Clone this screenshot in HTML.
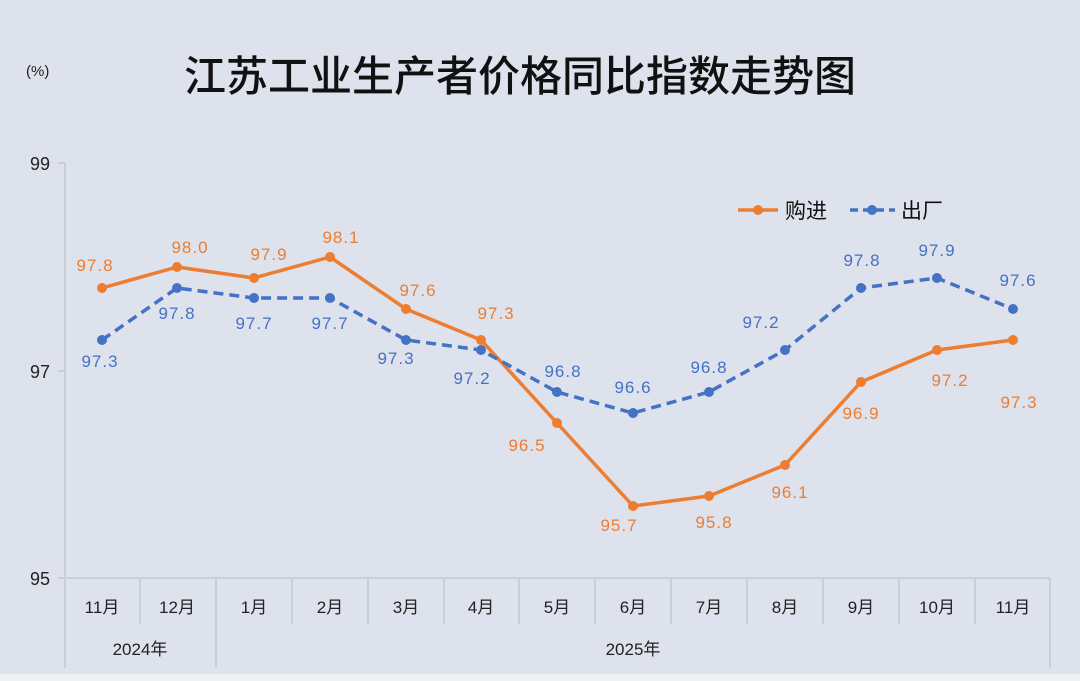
<!DOCTYPE html><html><head><meta charset="utf-8"><style>body{margin:0;background:#dde2ec}svg{display:block}</style></head><body>
<svg width="1080" height="681" viewBox="0 0 1080 681" font-family="Liberation Sans, Noto Sans CJK SC, sans-serif">
<rect width="1080" height="681" fill="#dde2ec"/>
<rect y="674" width="1080" height="7" fill="#eef0f4"/>
<text x="26" y="76" font-size="15" fill="#222">(%)</text>
<text x="520" y="91" font-size="42" text-anchor="middle" fill="#111" font-family="Noto Sans CJK SC, sans-serif" font-weight="500">江苏工业生产者价格同比指数走势图</text>
<g stroke="#c9ced8" stroke-width="2" fill="none">
<line x1="65" y1="163" x2="65" y2="668"/><line x1="58" y1="163" x2="65" y2="163"/><line x1="58" y1="371" x2="65" y2="371"/><line x1="58" y1="578" x2="1050" y2="578"/>
<line x1="1050" y1="578" x2="1050" y2="668"/><line x1="216" y1="578" x2="216" y2="668"/>
<line x1="140" y1="578" x2="140" y2="624"/><line x1="292" y1="578" x2="292" y2="624"/><line x1="368" y1="578" x2="368" y2="624"/><line x1="444" y1="578" x2="444" y2="624"/><line x1="519" y1="578" x2="519" y2="624"/><line x1="595" y1="578" x2="595" y2="624"/><line x1="671" y1="578" x2="671" y2="624"/><line x1="747" y1="578" x2="747" y2="624"/><line x1="823" y1="578" x2="823" y2="624"/><line x1="899" y1="578" x2="899" y2="624"/><line x1="975" y1="578" x2="975" y2="624"/>
</g>
<g font-size="18" fill="#222" text-anchor="end"><text x="50" y="170">99</text><text x="50" y="378">97</text><text x="50" y="585">95</text></g>
<g font-size="17" fill="#222" text-anchor="middle">
<text x="102" y="613">11月</text><text x="177" y="613">12月</text><text x="254" y="613">1月</text><text x="330" y="613">2月</text><text x="406" y="613">3月</text><text x="481" y="613">4月</text><text x="557" y="613">5月</text><text x="633" y="613">6月</text><text x="709" y="613">7月</text><text x="785" y="613">8月</text><text x="861" y="613">9月</text><text x="937" y="613">10月</text><text x="1013" y="613">11月</text>
<text x="140" y="655">2024年</text><text x="633" y="655">2025年</text></g>
<polyline fill="none" stroke="#ed7d31" stroke-width="3.5" stroke-linejoin="round" points="102,288 177,267 254,278 330,257 406,309 481,340 557,423 633,506 709,496 785,465 861,382 937,350 1013,340"/>
<polyline fill="none" stroke="#4472c4" stroke-width="3.5" stroke-dasharray="10,6" points="102,340 177,288 254,298 330,298 406,340 481,350 557,392 633,413 709,392 785,350 861,288 937,278 1013,309"/>
<g fill="#ed7d31"><circle cx="102" cy="288" r="5"/><circle cx="177" cy="267" r="5"/><circle cx="254" cy="278" r="5"/><circle cx="330" cy="257" r="5"/><circle cx="406" cy="309" r="5"/><circle cx="481" cy="340" r="5"/><circle cx="557" cy="423" r="5"/><circle cx="633" cy="506" r="5"/><circle cx="709" cy="496" r="5"/><circle cx="785" cy="465" r="5"/><circle cx="861" cy="382" r="5"/><circle cx="937" cy="350" r="5"/><circle cx="1013" cy="340" r="5"/></g>
<g fill="#4472c4"><circle cx="102" cy="340" r="5"/><circle cx="177" cy="288" r="5"/><circle cx="254" cy="298" r="5"/><circle cx="330" cy="298" r="5"/><circle cx="406" cy="340" r="5"/><circle cx="481" cy="350" r="5"/><circle cx="557" cy="392" r="5"/><circle cx="633" cy="413" r="5"/><circle cx="709" cy="392" r="5"/><circle cx="785" cy="350" r="5"/><circle cx="861" cy="288" r="5"/><circle cx="937" cy="278" r="5"/><circle cx="1013" cy="309" r="5"/></g>
<g font-size="17" fill="#ed7d31" text-anchor="middle" letter-spacing="1">
<text x="95" y="271">97.8</text><text x="190" y="253">98.0</text><text x="269" y="260">97.9</text><text x="341" y="243">98.1</text><text x="418" y="296">97.6</text><text x="496" y="319">97.3</text><text x="527" y="451">96.5</text><text x="619" y="531">95.7</text><text x="714" y="528">95.8</text><text x="790" y="498">96.1</text><text x="861" y="419">96.9</text><text x="950" y="386">97.2</text><text x="1019" y="408">97.3</text></g>
<g font-size="17" fill="#4472c4" text-anchor="middle" letter-spacing="1">
<text x="100" y="367">97.3</text><text x="177" y="319">97.8</text><text x="254" y="329">97.7</text><text x="330" y="329">97.7</text><text x="396" y="364">97.3</text><text x="472" y="384">97.2</text><text x="563" y="377">96.8</text><text x="633" y="393">96.6</text><text x="709" y="373">96.8</text><text x="761" y="328">97.2</text><text x="862" y="266">97.8</text><text x="937" y="256">97.9</text><text x="1018" y="286">97.6</text></g>
<line x1="738" y1="210" x2="778" y2="210" stroke="#ed7d31" stroke-width="3.5"/><circle cx="758" cy="210" r="5" fill="#ed7d31"/>
<text x="785" y="218" font-size="21" fill="#111">购进</text>
<line x1="850" y1="210" x2="895" y2="210" stroke="#4472c4" stroke-width="3.5" stroke-dasharray="8,5"/><circle cx="872" cy="210" r="5" fill="#4472c4"/>
<text x="901" y="218" font-size="21" fill="#111">出厂</text>
</svg></body></html>
